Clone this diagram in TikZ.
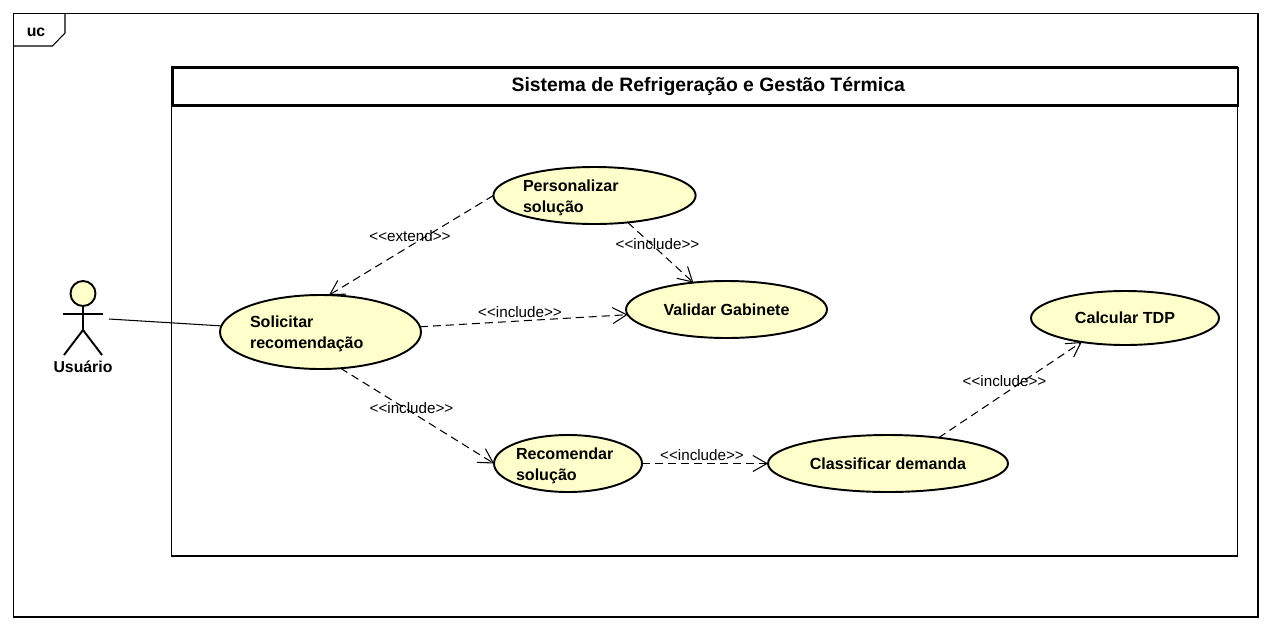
\documentclass[tikz,border=0pt]{standalone}
\usepackage{xcolor}
\usepackage{fontspec}
\setmainfont{Liberation Sans}
\usetikzlibrary{shapes,arrows.meta,positioning,calc}
\definecolor{usecasefill}{HTML}{FFFFCC}

\begin{document}
\begin{tikzpicture}[
    boxline/.style={draw=black, line width=0.6pt, inner sep=0pt, outer sep=0pt},
    usecase/.style={ellipse, draw=black, fill=usecasefill, line width=1.1pt, inner sep=0pt, outer sep=0pt, minimum height=1.14cm, font=\fontsize{9.15}{11.7}\selectfont\bfseries},
    twolines/.style={text width=#1, align=left, text height=9pt},
    relation/.style={-{Straight Barb[length=2.8mm, width=3.2mm]}, dash pattern=on 0.16cm off 0.10cm, line width=0.6pt},
    stereotype/.style={inner sep=0pt, font=\fontsize{8.65}{10}\selectfont},
    stick/.style={line width=1.1pt}
]
    \useasboundingbox (0,0) rectangle (25.44,12.6);
    \fill[white] (0,0) rectangle (25.44,12.6);

    % Frame
    \node[boxline, minimum width=24.89cm, minimum height=12.07cm] (frame) at (12.715,6.295) {};
    \coordinate (tabA) at (1.30,12.33);
    \coordinate (tabB) at (1.30,11.94);
    \coordinate (tabC) at (1.05,11.68);
    \coordinate (tabD) at (0.27,11.68);
    \draw[line width=0.6pt] (tabA) -- (tabB) -- (tabC) -- (tabD);
    \node[inner sep=0pt, font=\fontsize{9}{11}\selectfont\bfseries] (uc) at (0.72,11.96) {uc};

    % System
    \node[boxline, minimum width=21.32cm, minimum height=9.78cm] (system) at (14.09,6.37) {};
    \node[boxline, line width=1.6pt, minimum width=21.31cm, minimum height=0.75cm, font=\fontsize{11.03}{13}\selectfont\bfseries] (title) at (14.105,10.865) {\hspace*{0.12cm}Sistema de Refrigeração e Gestão Térmica};

    % Actor
    \node[circle, draw=black, fill=usecasefill, stick, inner sep=0pt, minimum size=0.5cm] (head) at (1.66,6.73) {};
    \coordinate (hip) at (1.66,6.00);
    \coordinate (armL) at (1.26,6.32);
    \coordinate (armR) at (2.05,6.32);
    \coordinate (footL) at (1.28,5.50);
    \coordinate (footR) at (2.04,5.50);
    \coordinate (hand) at (2.18,6.22);
    \draw[stick] (head) -- (hip);
    \draw[stick] (armL) -- (armR);
    \draw[stick] (footL) -- (hip) -- (footR);
    \node[inner sep=0pt, font=\fontsize{9}{11}\selectfont\bfseries] (usuario) at (1.66,5.26) {Usuário};

    % Use cases
    \node[usecase, minimum width=4.02cm, minimum height=1.48cm, twolines=2.82cm] (solicitar) at (6.41,5.96) {Solicitar\\recomendação};
    \node[usecase, minimum width=4.02cm, twolines=2.86cm] (personalizar) at (11.89,8.69) {Personalizar\\solução};
    \node[usecase, minimum width=4.02cm] (validar) at (14.53,6.41) {Validar Gabinete};
    \node[usecase, minimum width=2.96cm, twolines=2.08cm] (recomendar) at (11.36,3.33) {Recomendar\\solução};
    \node[usecase, minimum width=4.80cm] (classificar) at (17.76,3.33) {Classificar demanda};
    \node[usecase, minimum width=3.76cm, minimum height=1.08cm] (calcular) at (22.50,6.24) {Calcular TDP};

    % Relations
    \draw[line width=0.6pt] (hand) -- (solicitar);
    \draw[relation] (personalizar.west) -- (solicitar.77);
    \draw[relation] (personalizar.-39) -- (validar.141);
    \draw[relation] (solicitar.3) -- (validar.183);
    \draw[relation] (solicitar.-61) -- (recomendar.west);
    \draw[relation] (recomendar.east) -- (classificar.west);
    \draw[relation] (classificar.27) -- (calcular.209);

    % Stereotypes
    \node[stereotype] (extendlabel) at (8.20,7.88) {<{}<extend>{}>};
    \node[stereotype] (includeA) at (13.15,7.72) {<{}<include>{}>};
    \node[stereotype] (includeB) at (10.40,6.36) {<{}<include>{}>};
    \node[stereotype] (includeC) at (8.23,4.44) {<{}<include>{}>};
    \node[stereotype] (includeD) at (14.04,3.50) {<{}<include>{}>};
    \node[stereotype] (includeE) at (20.09,4.98) {<{}<include>{}>};
\end{tikzpicture}
\end{document}
